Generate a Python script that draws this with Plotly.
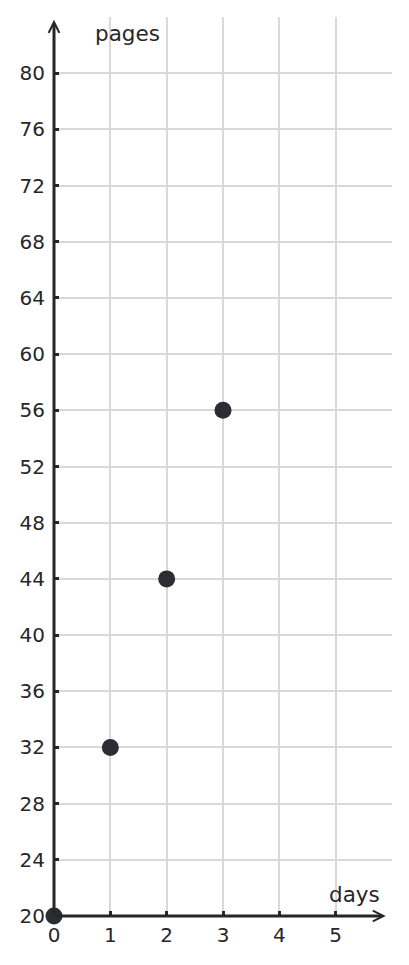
import plotly.graph_objects as go

days = [0, 1, 2, 3]
pages = [20, 32, 44, 56]
x_ticks = [0, 1, 2, 3, 4, 5]
y_ticks = list(range(20, 81, 4))

INK = "#26272b"
GRID = "#d9d9d9"
FONT = "DejaVu Sans"

fig = go.Figure(go.Scatter(
    x=days, y=pages, mode="markers",
    marker=dict(size=17, color="#2b2d33"),
    cliponaxis=False, hoverinfo="x+y",
))

# axis lines drawn as arrows
fig.add_annotation(x=5.89, y=20, ax=0, ay=20, xref="x", yref="y", axref="x", ayref="y",
                   showarrow=True, arrowhead=5, arrowwidth=3, arrowsize=0.7,
                   arrowcolor=INK, text="", standoff=0)
fig.add_annotation(x=0, y=83.8, ax=0, ay=20, xref="x", yref="y", axref="x", ayref="y",
                   showarrow=True, arrowhead=5, arrowwidth=3, arrowsize=0.7,
                   arrowcolor=INK, text="", standoff=0)

fig.add_annotation(x=0.69, y=82.8, xref="x", yref="y", text="pages", showarrow=False,
                   xanchor="left", yanchor="middle", font=dict(family=FONT, size=21.5, color=INK))
fig.add_annotation(x=5.82, y=21.5, xref="x", yref="y", text="days", showarrow=False,
                   xanchor="right", yanchor="middle", font=dict(family=FONT, size=21.5, color=INK))

# page body keeps an 8px margin, so the figure is sized to fit the window
fig.update_layout(
    width=401, height=957,
    margin=dict(l=46, r=17, t=9, b=49),
    plot_bgcolor="white", paper_bgcolor="white",
    showlegend=False,
    font=dict(family=FONT, size=20, color=INK),
    xaxis=dict(range=[0, 6], tickvals=x_ticks, showgrid=True, gridcolor=GRID, gridwidth=2,
               zeroline=False, showline=False, ticks="inside", ticklen=5, tickwidth=3,
               tickcolor=INK, ticklabelstandoff=5, fixedrange=True),
    yaxis=dict(range=[20, 84], tickvals=y_ticks, showgrid=True, gridcolor=GRID, gridwidth=2,
               zeroline=False, showline=False, ticks="inside", ticklen=5, tickwidth=3,
               tickcolor=INK, ticklabelstandoff=8, fixedrange=True),
)

fig.write_html("out.html")
